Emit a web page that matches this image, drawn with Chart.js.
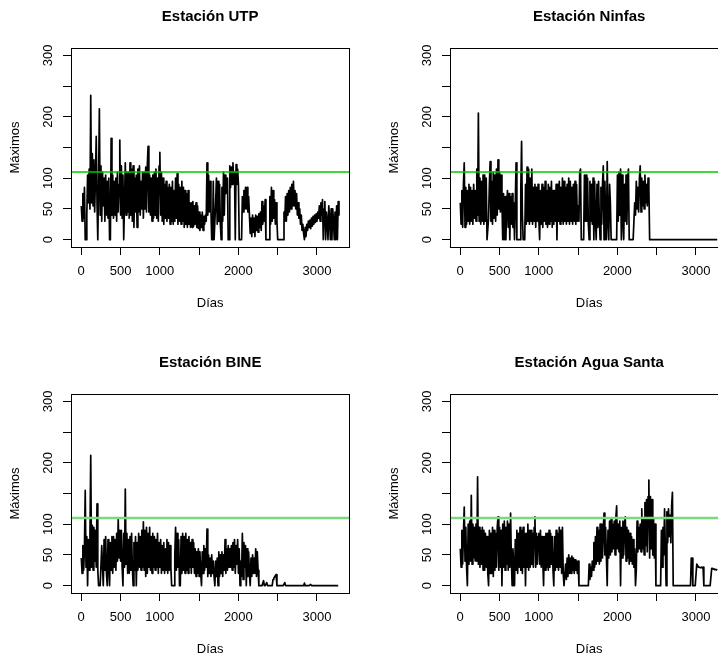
<!DOCTYPE html>
<html lang="es">
<head>
<meta charset="utf-8">
<title>Máximos diarios por estación</title>
<script src="https://cdn.jsdelivr.net/npm/chart.js@4.4.1/dist/chart.umd.min.js"></script>
<style>
  html, body { margin: 0; padding: 0; background: #fff; }
  #lienzo { position: relative; width: 718px; height: 658px; overflow: hidden; }
  #lienzo canvas { position: absolute; }
</style>
</head>
<body>
<div id="lienzo">
  <canvas id="g-utp" width="379" height="346" style="left:0;top:0"></canvas>
  <canvas id="g-ninfas" width="379" height="346" style="left:379px;top:0"></canvas>
  <canvas id="g-bine" width="379" height="346" style="left:0;top:346px"></canvas>
  <canvas id="g-agua" width="379" height="346" style="left:379px;top:346px"></canvas>
</div>
<script>
// máximos diarios, un valor cada 10 días (una fila = 100 días)
const paso = 10;

const maxUTP = [
  55, 30, 75, 35, 85, 0, 0, 40, 105, 60,
  115, 50, 235, 60, 140, 55, 130, 45, 100, 168,
  60, 0, 95, 213, 40, 120, 30, 110, 55, 100,
  30, 105, 40, 95, 35, 100, 0, 0, 165, 40,
  105, 35, 95, 40, 100, 30, 110, 45, 90, 162,
  40, 120, 35, 105, 0, 60, 125, 40, 110, 45,
  110, 35, 125, 40, 115, 30, 120, 20, 100, 45,
  105, 20, 115, 45, 120, 40, 95, 50, 110, 35,
  110, 50, 118, 45, 120, 152, 45, 105, 40, 100,
  30, 105, 35, 110, 40, 115, 35, 100, 30, 120,
  142, 40, 110, 30, 100, 25, 90, 35, 95, 30,
  85, 35, 90, 25, 85, 30, 95, 25, 80, 30,
  100, 35, 107, 25, 90, 30, 85, 25, 95, 30,
  85, 20, 80, 25, 75, 20, 80, 25, 60, 20,
  60, 20, 62, 22, 55, 25, 60, 20, 55, 18,
  45, 15, 40, 20, 45, 15, 38, 25, 40, 30,
  125, 40, 105, 45, 95, 50, 0, 0, 95, 0,
  0, 60, 100, 25, 95, 30, 90, 25, 0, 85,
  30, 110, 40, 105, 75, 85, 100, 0, 0, 120,
  85, 118, 90, 125, 95, 110, 0, 122, 90, 115,
  90, 0, 0, 0, 0, 70, 45, 80, 50, 85,
  50, 85, 45, 70, 40, 10, 35, 5, 40, 12,
  35, 5, 40, 15, 38, 12, 42, 20, 45, 15,
  62, 25, 55, 30, 65, 0, 0, 0, 0, 0,
  70, 25, 85, 30, 80, 35, 65, 25, 60, 30,
  0, 0, 0, 0, 0, 0, 0, 0, 45, 30,
  70, 30, 75, 40, 80, 45, 85, 50, 90, 55,
  95, 55, 80, 50, 75, 40, 60, 35, 50, 25,
  40, 15, 25, 10, 0, 20, 5, 25, 15, 30,
  20, 32, 18, 35, 22, 38, 25, 40, 28, 42,
  30, 45, 35, 55, 30, 60, 40, 65, 0, 50,
  62, 0, 45, 30, 0, 55, 35, 0, 50, 0,
  50, 30, 0, 45, 0, 55, 0, 62, 40
];

const maxNinfas = [
  60, 25, 80, 20, 90, 125, 20, 85, 25, 80,
  30, 90, 25, 85, 30, 80, 25, 90, 35, 80,
  30, 115, 40, 206, 30, 100, 25, 95, 30, 105,
  25, 105, 30, 100, 0, 0, 35, 90, 127, 30,
  95, 25, 110, 35, 105, 30, 115, 40, 130, 50,
  110, 45, 105, 60, 0, 75, 0, 70, 0, 50,
  80, 20, 75, 0, 70, 25, 75, 20, 60, 0,
  60, 125, 0, 0, 0, 0, 0, 80, 160, 40,
  0, 0, 0, 90, 25, 118, 30, 115, 25, 100,
  30, 115, 25, 85, 30, 90, 20, 85, 30, 90,
  30, 0, 80, 25, 90, 20, 85, 30, 95, 25,
  80, 20, 90, 25, 85, 30, 95, 20, 80, 25,
  80, 30, 90, 0, 90, 30, 95, 25, 85, 30,
  100, 25, 95, 30, 85, 25, 90, 30, 100, 25,
  95, 30, 85, 25, 90, 30, 95, 25, 90, 30,
  55, 30, 110, 115, 0, 0, 0, 0, 105, 30,
  105, 30, 100, 25, 0, 95, 30, 90, 25, 100,
  0, 95, 30, 0, 90, 20, 95, 30, 0, 85,
  25, 90, 120, 0, 95, 30, 0, 127, 30, 0,
  90, 60, 0, 0, 0, 0, 0, 0, 0, 0,
  105, 30, 110, 40, 115, 0, 105, 30, 0, 90,
  30, 105, 25, 90, 115, 0, 0, 0, 0, 0,
  0, 0, 60, 40, 95, 50, 85, 45, 100, 120,
  45, 100, 55, 95, 50, 105, 60, 90, 55, 100,
  85, 0, 0, 0, 0, 0, 0, 0, 0, 0,
  0, 0, 0, 0, 0, 0, 0, 0, 0, 0,
  0, 0, 0, 0, 0, 0, 0, 0, 0, 0,
  0, 0, 0, 0, 0, 0, 0, 0, 0, 0,
  0, 0, 0, 0, 0, 0, 0, 0, 0, 0,
  0, 0, 0, 0, 0, 0, 0, 0, 0, 0,
  0, 0, 0, 0, 0, 0, 0, 0, 0, 0,
  0, 0, 0, 0, 0, 0, 0, 0, 0, 0,
  0, 0, 0, 0, 0, 0, 0, 0, 0
];

const maxBINE = [
  45, 20, 65, 25, 60, 155, 30, 80, 0, 75,
  25, 80, 212, 30, 98, 25, 95, 40, 90, 30,
  133, 25, 0, 0, 0, 0, 65, 30, 0, 75,
  25, 80, 20, 0, 75, 30, 0, 70, 25, 80,
  20, 80, 30, 75, 25, 85, 40, 108, 45, 90,
  40, 90, 30, 0, 85, 30, 157, 35, 85, 20,
  75, 20, 80, 25, 85, 30, 0, 70, 25, 80,
  0, 70, 25, 85, 30, 80, 25, 90, 30, 104,
  25, 90, 15, 95, 20, 85, 30, 95, 25, 80,
  20, 85, 30, 80, 25, 75, 30, 85, 20, 70,
  30, 75, 20, 65, 25, 70, 20, 60, 25, 75,
  20, 70, 25, 65, 30, 0, 0, 0, 0, 50,
  95, 25, 85, 30, 75, 0, 0, 80, 20, 85,
  25, 80, 20, 85, 25, 75, 20, 80, 30, 70,
  20, 75, 30, 70, 20, 60, 15, 55, 20, 60,
  15, 55, 20, 0, 55, 20, 65, 25, 60, 30,
  92, 15, 50, 20, 45, 15, 50, 20, 40, 15,
  0, 40, 15, 45, 0, 55, 15, 50, 20, 55,
  15, 50, 25, 75, 20, 60, 25, 65, 30, 60,
  30, 65, 25, 70, 30, 75, 20, 65, 35, 75,
  20, 60, 0, 40, 15, 85, 10, 70, 30, 65,
  0, 60, 15, 55, 20, 0, 45, 15, 50, 20,
  45, 20, 60, 15, 55, 25, 0, 0, 0, 0,
  0, 0, 8, 0, 0, 0, 5, 0, 0, 0,
  0, 0, 0, 0, 10, 12, 14, 16, 18, 0,
  0, 0, 0, 0, 0, 0, 0, 0, 0, 5,
  0, 0, 0, 0, 0, 0, 0, 0, 0, 0,
  0, 0, 0, 0, 0, 0, 0, 0, 0, 0,
  0, 0, 0, 0, 4, 0, 0, 0, 0, 0,
  0, 0, 2, 0, 0, 0, 0, 0, 0, 0,
  0, 0, 0, 0, 0, 0, 0, 0, 0, 0,
  0, 0, 0, 0, 0, 0, 0, 0, 0, 0,
  0, 0, 0, 0, 0, 0, 0, 0, 0
];

const maxAguaSanta = [
  60, 30, 90, 35, 85, 128, 40, 95, 30, 0,
  100, 35, 105, 40, 147, 35, 100, 45, 95, 40,
  100, 40, 177, 35, 95, 30, 90, 35, 95, 25,
  90, 25, 85, 30, 80, 20, 0, 90, 20, 85,
  20, 95, 15, 90, 25, 85, 30, 95, 112, 25,
  95, 30, 90, 0, 100, 30, 105, 25, 95, 35,
  105, 25, 100, 30, 118, 40, 0, 60, 30, 0,
  75, 25, 90, 20, 85, 30, 95, 25, 90, 20,
  95, 30, 85, 0, 85, 30, 100, 25, 90, 30,
  90, 35, 85, 30, 95, 112, 30, 85, 35, 80,
  85, 35, 90, 30, 80, 40, 0, 80, 25, 85,
  30, 85, 25, 90, 30, 85, 35, 80, 25, 0,
  80, 25, 90, 30, 85, 25, 95, 30, 90, 20,
  95, 20, 0, 0, 35, 10, 45, 15, 50, 20,
  45, 20, 48, 25, 45, 20, 42, 25, 40, 20,
  40, 0, 0, 0, 0, 0, 0, 0, 0, 0,
  0, 0, 0, 0, 35, 10, 30, 15, 40, 25,
  70, 30, 80, 35, 95, 40, 90, 35, 100, 40,
  100, 45, 95, 118, 50, 95, 45, 0, 90, 45,
  105, 50, 110, 55, 100, 60, 105, 50, 110, 130,
  60, 100, 55, 105, 0, 95, 45, 105, 50, 100,
  112, 40, 95, 45, 90, 35, 85, 40, 80, 35,
  75, 30, 60, 0, 25, 105, 55, 95, 60, 100,
  55, 125, 60, 110, 50, 135, 65, 140, 55, 145,
  172, 45, 145, 60, 140, 50, 110, 45, 100, 0,
  0, 0, 0, 0, 0, 0, 90, 30, 95, 50,
  125, 60, 0, 120, 70, 125, 80, 115, 70, 130,
  152, 0, 0, 0, 0, 0, 0, 0, 0, 0,
  0, 0, 0, 0, 0, 0, 0, 0, 0, 0,
  0, 0, 0, 0, 45, 45, 0, 0, 0, 0,
  0, 35, 33, 30, 30, 30, 29, 30, 29, 30,
  0, 0, 0, 0, 0, 0, 0, 0, 0, 0,
  28, 28, 27, 27, 26, 26, 26, 25, 25
];

const dias = maxUTP.map((_, i) => 1 + i * paso);

const ticksX = [0, 500, 1000, 1500, 2000, 2500, 3000];
const etiquetasX = [0, 500, 1000, 2000, 3000];
const ticksY = [0, 50, 100, 150, 200, 250, 300];
const etiquetasY = [0, 50, 100, 200, 300];
const umbral = 110;

// límites al estilo R: 4 % de margen a cada lado
const rangoX = dias[dias.length - 1] - dias[0];
const xMin = dias[0] - 0.04 * rangoX;
const xMax = dias[dias.length - 1] + 0.04 * rangoX;
const yMin = -0.04 * 300;
const yMax = 300 + 0.04 * 300;

const FUENTE = '"Liberation Sans", Arial, Helvetica, sans-serif';
Chart.defaults.font.family = FUENTE;
Chart.defaults.color = '#000';

// caja, etiquetas verticales del eje y y título centrado sobre la zona de datos
const marcoR = {
  id: 'marcoR',
  afterDraw(chart, args, opts) {
    const { ctx, chartArea: a, scales } = chart;
    ctx.save();
    ctx.strokeStyle = '#000';
    ctx.lineWidth = 1;
    ctx.strokeRect(Math.round(a.left) + 0.5, Math.round(a.top) + 0.5,
      Math.round(a.right - a.left), Math.round(a.bottom - a.top));

    ctx.fillStyle = '#000';
    ctx.textAlign = 'center';
    ctx.textBaseline = 'middle';
    ctx.font = '13px ' + FUENTE;
    etiquetasY.forEach(v => {
      const y = scales.y.getPixelForValue(v);
      ctx.save();
      ctx.translate(a.left - 22.7, y);
      ctx.rotate(-Math.PI / 2);
      ctx.fillText(String(v), 0, 0);
      ctx.restore();
    });

    ctx.font = 'bold 15px ' + FUENTE;
    ctx.fillText(opts.titulo, (a.left + a.right) / 2, 17);
    ctx.restore();
  }
};

function panel(id, titulo, valores, verde) {
  const serie = valores.map((v, i) => ({ x: dias[i], y: v }));
  new Chart(document.getElementById(id), {
    type: 'line',
    data: {
      datasets: [
        {
          data: [{ x: xMin, y: umbral }, { x: xMax, y: umbral }],
          borderColor: verde.color,
          borderWidth: verde.ancho,
          pointRadius: 0,
          order: 0
        },
        {
          data: serie,
          borderColor: '#000',
          borderWidth: 1.7,
          borderJoinStyle: 'round',
          pointRadius: 0,
          tension: 0,
          order: 1
        }
      ]
    },
    options: {
      responsive: false,
      animation: false,
      events: [],
      layout: { padding: { left: 0, top: 48, right: 29.7, bottom: 0 } },
      plugins: {
        legend: { display: false },
        tooltip: { enabled: false },
        marcoR: { titulo }
      },
      scales: {
        x: {
          type: 'linear',
          min: xMin,
          max: xMax,
          afterBuildTicks: s => { s.ticks = ticksX.map(v => ({ value: v })); },
          afterFit: s => { s.height = 99; },
          ticks: {
            autoSkip: false,
            maxRotation: 0,
            padding: 9,
            font: { size: 13 },
            callback: v => etiquetasX.includes(v) ? String(v) : ''
          },
          grid: { drawOnChartArea: false, tickLength: 8, color: '#000' },
          border: { color: '#000' },
          title: {
            display: true,
            text: 'Días',
            font: { size: 13 },
            padding: { top: 0, bottom: 35 }
          }
        },
        y: {
          type: 'linear',
          min: yMin,
          max: yMax,
          afterBuildTicks: s => { s.ticks = ticksY.map(v => ({ value: v })); },
          afterFit: s => { s.width = 71; },
          ticks: { display: false },
          grid: { drawOnChartArea: false, tickLength: 8, color: '#000' },
          border: { color: '#000' },
          title: {
            display: true,
            text: 'Máximos',
            font: { size: 13 },
            padding: { top: 8, bottom: 0 }
          }
        }
      }
    },
    plugins: [marcoR]
  });
}

const verdeArriba = { color: '#00c800', ancho: 1.5 };
const verdeAbajo = { color: '#7cd87c', ancho: 2.5 };

panel('g-utp', 'Estación UTP', maxUTP, verdeArriba);
panel('g-ninfas', 'Estación Ninfas', maxNinfas, verdeArriba);
panel('g-bine', 'Estación BINE', maxBINE, verdeAbajo);
panel('g-agua', 'Estación Agua Santa', maxAguaSanta, verdeAbajo);
</script>
</body>
</html>
